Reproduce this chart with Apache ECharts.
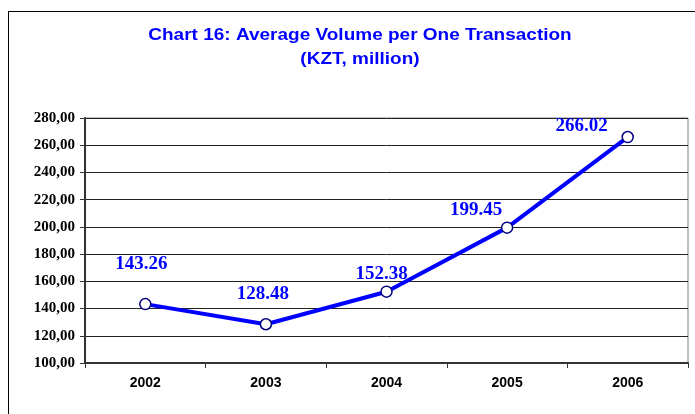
<!DOCTYPE html>
<html><head><meta charset="utf-8">
<script src="https://cdn.jsdelivr.net/npm/echarts@6/dist/echarts.min.js"></script>
<style>html,body{margin:0;padding:0;background:#fff}#c{width:695px;height:414px}
#frame{position:absolute;left:8px;top:11px;width:700px;height:420px;border:1px solid #000;box-sizing:border-box;pointer-events:none}</style>
</head><body><div id="c"></div><div id="frame"></div>
<script>
var categories = ['2002', '2003', '2004', '2005', '2006'];
var values = [143.26, 128.48, 152.38, 199.45, 266.02];
var yMin = 100, yMax = 280, yStep = 20;
var titleLines = ['Chart 16: Average Volume per One Transaction', '(KZT, million)'];
var labelOffsets = [[-4, -19], [-3, -9], [-5, 3], [-31, 3], [-46, 10]];

var titleFont = 'bold 19px Arial, "Liberation Sans", sans-serif';
var chart = echarts.init(document.getElementById('c'));
chart.setOption({
  animation: false,
  graphic: titleLines.map(function (t, i) {
    return {type: 'text', x: 360, y: 35 + i * 24, scaleY: 0.9,
      style: {text: t, font: titleFont, fill: '#0000ff', textAlign: 'center', textVerticalAlign: 'middle'}};
  }),
  grid: {left: 85, top: 118, right: 7, bottom: 51, show: true, borderColor: '#808080', borderWidth: 1},
  xAxis: {
    type: 'category', data: categories, boundaryGap: true,
    axisLine: {lineStyle: {color: '#333', width: 2}},
    axisTick: {show: true, length: 5, lineStyle: {color: '#333'}},
    axisLabel: {color: '#000', fontFamily: 'Arial, "Liberation Sans", sans-serif', fontWeight: 'bold', fontSize: 14, margin: 13}
  },
  yAxis: {
    type: 'value', min: yMin, max: yMax, interval: yStep,
    axisLine: {show: true, lineStyle: {color: '#333', width: 2}},
    axisTick: {show: true, length: 5, lineStyle: {color: '#333'}},
    splitLine: {lineStyle: {color: '#222', width: 1}},
    axisLabel: {color: '#000', fontFamily: '"Liberation Serif", "Times New Roman", serif', fontWeight: 'bold', fontSize: 15, margin: 10,
      formatter: function (v) { return v.toFixed(2).replace('.', ','); }}
  },
  series: [{
    type: 'line', data: values.map(function (v, i) {
      return {value: v, label: {offset: labelOffsets[i]}};
    }),
    lineStyle: {color: '#0000ff', width: 4},
    symbol: 'circle', symbolSize: 11,
    itemStyle: {color: '#fff', borderColor: '#000080', borderWidth: 1.5},
    label: {show: true, position: 'top', color: '#0000ff', fontFamily: '"Liberation Serif", "Times New Roman", serif', fontWeight: 'bold', fontSize: 19,
      formatter: function (p) { return p.value.toFixed(2); }},
    z: 5
  }]
});
</script></body></html>
